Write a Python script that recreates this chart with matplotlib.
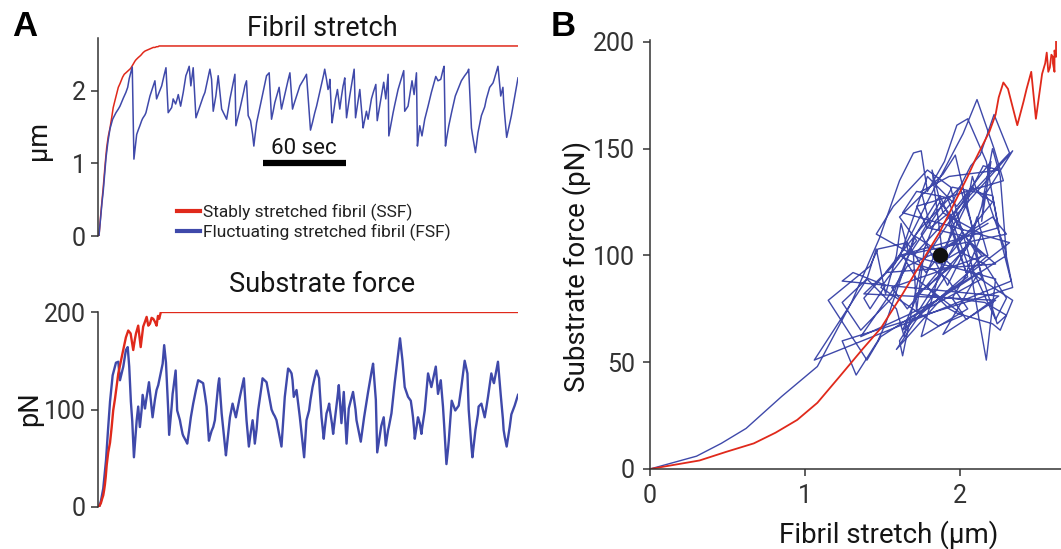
import matplotlib
matplotlib.use("Agg")
import matplotlib.pyplot as plt

# time (s), fibril stretch (um) and substrate force (pN)
t_fsf = [0.0, 1.4, 2.2, 3.1, 4.1, 5.1, 6.5, 8.0, 9.9, 12.3, 14.0, 15.2, 17.6, 19.5, 20.8, 21.9, 23.1, 24.1,
         25.3, 27.3, 28.4, 29.6, 30.9, 31.6, 33.3, 34.0, 36.2, 36.9, 38.8, 40.5, 41.7, 42.9, 45.4,
         46.1, 47.2, 48.5, 50.1, 50.8, 52.6, 53.3, 53.7, 55.5, 56.6, 57.4, 58.6, 59.1, 60.5, 61.0,
         62.9, 63.9, 65.3, 66.5, 68.2, 70.2, 71.8, 73.1, 75.4, 76.7, 77.9, 79.6, 80.3, 81.5, 82.7,
         83.9, 84.6, 86.3, 87.0, 88.8, 91.9, 92.4, 94.8, 96.7, 98.4, 99.1, 102.0, 104.9, 105.6,
         106.8, 108.0, 108.5, 109.7, 111.2, 112.1, 112.8, 114.1, 115.2, 117.7, 118.4, 121.3, 123.2,
         124.9, 126.1, 127.3, 128.5, 130.4, 132.1, 134.5, 136.9, 138.2, 139.4, 140.1, 141.0, 143.0,
         145.4, 148.5, 150.2, 152.1, 153.1, 154.6, 156.2, 157.5, 159.3, 159.8, 161.1, 162.7, 163.4,
         164.7, 165.8, 166.6, 167.1, 168.7, 169.5, 171.2, 171.9, 172.6, 173.6, 174.3, 175.5, 176.7,
         177.2, 177.9, 179.2, 180.8, 181.5, 183.9, 184.7, 185.7, 186.4, 188.8, 189.5, 191.2, 191.9,
         193.6, 194.8, 197.2, 198.4, 200.4, 201.4, 204.3, 206.1, 207.6, 209.3, 209.8, 211.7, 212.9,
         214.1, 216.5, 217.9, 219.7, 220.6, 221.3, 223.7, 225.7, 226.6, 227.3, 228.1, 228.6, 229.8,
         230.5, 230.9, 232.2, 233.4, 233.8, 235.8, 238.2, 240.6, 243.8, 245.4, 247.4, 249.0, 249.8,
         250.8, 251.5, 252.7, 253.2, 255.3, 257.9, 260.4, 262.3, 264.7, 266.7, 267.6, 269.6, 270.3,
         272.5, 274.3, 274.8, 276.8, 279.2, 280.4, 281.6, 282.8, 284.0, 285.2, 285.9, 288.8, 290.8,
         292.4, 292.9, 293.7, 295.1, 297.3, 298.5, 300.9, 303.3]
stretch_fsf = [0.00, 0.30, 0.46, 0.62, 0.85, 1.08, 1.30, 1.48, 1.61, 1.70, 1.75, 1.79, 1.90, 1.98, 2.05, 2.17, 2.26, 2.33,
               1.06, 1.40, 1.46, 1.52, 1.59, 1.62, 1.67, 1.70, 1.87, 1.93, 2.04, 2.14, 1.89, 1.95, 2.07,
               2.13, 2.22, 2.32, 1.70, 1.72, 1.77, 1.84, 1.89, 1.82, 1.89, 1.95, 1.84, 1.79, 1.93, 1.98,
               2.21, 2.26, 2.34, 2.07, 2.32, 1.63, 1.72, 1.79, 1.92, 1.98, 2.09, 2.24, 2.30, 2.16, 1.72,
               1.85, 1.93, 2.21, 2.08, 1.75, 1.63, 1.61, 1.89, 2.07, 2.23, 1.52, 1.75, 2.00, 2.07,
               2.14, 1.66, 1.64, 1.59, 1.40, 1.24, 1.36, 1.56, 1.66, 1.89, 1.95, 2.21, 2.25,
               1.61, 1.72, 1.84, 1.92, 2.05, 1.75, 1.95, 2.15, 2.25, 1.93, 1.75, 1.81, 1.93,
               2.07, 2.17, 2.23, 1.73, 1.46, 1.57, 1.70, 1.79, 1.94, 1.98, 2.09, 2.23, 2.30,
               2.16, 2.02, 2.06, 2.16, 1.56, 1.66, 1.89, 1.95, 2.02, 1.87, 1.75, 1.92, 2.07,
               2.11, 2.18, 1.63, 1.84, 1.93, 2.21, 2.30, 1.63, 1.72, 2.02, 1.86, 1.49, 1.56,
               1.72, 1.61, 1.89, 1.97, 2.09, 1.59, 1.92, 2.12, 1.89, 2.23, 1.38, 1.58, 1.70,
               1.81, 2.02, 2.11, 2.22, 2.28, 1.72, 1.79, 2.03, 2.14, 2.05, 1.95, 2.04, 2.25,
               1.24, 1.31, 1.52, 1.42, 1.38, 1.61, 1.79, 1.98, 2.20, 2.14, 2.16, 2.29, 2.34,
               1.24, 1.33, 1.47, 1.52, 1.71, 1.93, 2.05, 2.14, 2.21, 2.26, 2.30, 1.49, 1.40,
               1.15, 1.42, 1.47, 1.66, 1.78, 1.89, 1.97, 2.05, 2.08, 2.11, 2.15, 2.34, 1.93,
               2.05, 1.85, 1.66, 1.36, 1.55, 1.66, 1.92, 2.18]
force_fsf = [0, 6, 12, 19, 34, 48, 78, 108, 135, 148, 149, 130, 144, 161, 164, 144, 108, 88,
             51, 89, 103, 82, 100, 115, 101, 108, 128, 118, 92, 110, 120, 125, 142,
             147, 166, 148, 100, 74, 103, 116, 120, 140, 99, 95, 89, 85, 75, 73,
             68, 65, 79, 92, 106, 120, 130, 129, 127, 115, 103, 68, 72, 78, 82,
             89, 100, 125, 132, 96, 53, 60, 92, 106, 96, 92, 113, 132, 116,
             89, 70, 62, 75, 89, 78, 65, 80, 99, 124, 132, 128, 113,
             100, 96, 93, 89, 75, 62, 113, 142, 140, 137, 130, 113, 120,
             92, 51, 89, 99, 110, 123, 133, 140, 132, 120, 92, 70, 80,
             96, 101, 106, 100, 85, 75, 95, 103, 112, 125, 110, 86, 108,
             118, 100, 65, 101, 105, 118, 110, 100, 89, 72, 67, 85, 92,
             107, 118, 138, 147, 110, 56, 83, 92, 63, 79, 82, 96, 112,
             128, 157, 173, 150, 135, 123, 113, 109, 100, 92, 80, 70, 81,
             88, 92, 86, 75, 80, 99, 137, 123, 144, 116, 130, 103, 85,
             60, 44, 60, 68, 109, 99, 104, 123, 150, 137, 100, 62, 51,
             79, 95, 103, 106, 92, 102, 113, 125, 137, 130, 127, 149, 115,
             90, 79, 72, 62, 82, 95, 104, 115]

t_ssf = [0.0, 0.7, 1.4, 2.2, 3.1, 3.7, 4.3, 4.9, 5.6, 6.7, 8.0, 9.2, 10.3, 11.6, 12.8, 14.0, 15.2, 17.1,
         18.3, 19.5, 21.2, 22.9, 24.8, 26.0, 26.8, 28.4, 30.2, 32.0, 33.3, 34.5, 35.7, 36.9, 38.1,
         39.3, 40.5, 41.7, 42.7, 43.6, 44.8, 303.3]
stretch_ssf = [0.00, 0.16, 0.32, 0.49, 0.67, 0.81, 0.95, 1.08, 1.22, 1.37, 1.49, 1.63, 1.77, 1.87, 1.96, 2.05, 2.10, 2.19,
               2.23, 2.25, 2.28, 2.31, 2.37, 2.41, 2.43, 2.46, 2.49, 2.53, 2.55, 2.56, 2.57, 2.58, 2.59,
               2.60, 2.60, 2.61, 2.61, 2.62, 2.62, 2.62]
force_ssf = [0, 2, 4, 8, 12, 17, 23, 31, 43, 56, 66, 82, 99, 111, 124, 137, 145, 158,
             166, 174, 181, 178, 161, 172, 178, 186, 164, 185, 190, 195, 186, 188, 194,
             193, 190, 186, 196, 193, 200, 200]

mean_point = (1.87, 100)

RED = '#e0291b'
BLUE = '#3f49aa'
TXT = '#333333'
INK = '#151515'

plt.rcParams['font.family'] = ['Roboto', 'DejaVu Sans']

W, H = 1061, 549
fig = plt.figure(figsize=(W / 100, H / 100), dpi=100)


def px_axes(left, top, right, bottom):
    return fig.add_axes([left / W, 1 - bottom / H, (right - left) / W, (bottom - top) / H])


def style_a(ax):
    for s in ['top', 'right', 'bottom']:
        ax.spines[s].set_visible(False)
    ax.spines['left'].set_color(TXT)
    ax.spines['left'].set_linewidth(1.1)
    ax.set_xticks([])
    ax.tick_params(axis='y', direction='out', length=5, width=1.1, colors=TXT, labelsize=18, pad=4)


# Panel A, fibril stretch
ax1 = px_axes(98, 38, 518, 236)
ax1.plot(t_ssf, stretch_ssf, color=RED, lw=1.1, label='Stably stretched fibril (SSF)')
ax1.plot(t_fsf, stretch_fsf, color=BLUE, lw=1.1, label='Fluctuating stretched fibril (FSF)')
ax1.set_xlim(-0.7, 303.3)
ax1.set_ylim(0, 2.73)
ax1.set_yticks([0, 1, 2])
style_a(ax1)
# 60 sec scale bar
ax1.plot([118.5, 178.5], [1.01, 1.01], color='black', lw=4.5, solid_capstyle='butt', clip_on=False)
ax1.text(148.5, 1.21, '60 sec', ha='center', va='center', fontsize=16, color=INK)
leg = ax1.legend(loc='center left', bbox_to_anchor=(177 / W, 1 - 222 / H), bbox_transform=fig.transFigure,
                 frameon=False, fontsize=12.5, handlelength=1.3, handletextpad=0.2, labelspacing=0.15,
                 borderpad=0, borderaxespad=0)
for ln in leg.get_lines():
    ln.set_linewidth(3)
for tx in leg.get_texts():
    tx.set_color('#222222')

# Panel A, substrate force
ax2 = px_axes(98, 312, 518, 507)
ax2.plot(t_fsf, force_fsf, color=BLUE, lw=1.7)
ax2.plot(t_ssf, force_ssf, color=RED, lw=1.7)
ax2.set_xlim(-0.7, 303.3)
ax2.set_ylim(0, 200)
ax2.set_yticks([0, 100, 200])
style_a(ax2)

fig.text(322 / W, 1 - 28 / H, 'Fibril stretch', ha='center', va='center', fontsize=19.5, color=INK)
fig.text(322 / W, 1 - 285 / H, 'Substrate force', ha='center', va='center', fontsize=19.5, color=INK)
fig.text(38 / W, 1 - 140 / H, 'μm', rotation=90, ha='center', va='center', fontsize=19.5, color=INK)
fig.text(30 / W, 1 - 409 / H, 'pN', rotation=90, ha='center', va='center', fontsize=19.5, color=INK)

# Panel B, force vs stretch
ax3 = px_axes(650, 40, 1061, 469)
ax3.plot(stretch_fsf, force_fsf, color=BLUE, lw=1.0)
ax3.plot(stretch_ssf, force_ssf, color=RED, lw=1.3)
ax3.plot([mean_point[0]], [mean_point[1]], 'o', color='#111111', ms=10)
ax3.set_xlim(0, 2.652)
ax3.set_ylim(0, 200.9)
ax3.set_xticks([0, 1, 2])
ax3.set_yticks([0, 50, 100, 150, 200])
for s in ['top', 'right']:
    ax3.spines[s].set_visible(False)
for s in ['left', 'bottom']:
    ax3.spines[s].set_color(TXT)
    ax3.spines[s].set_linewidth(1.1)
ax3.tick_params(direction='out', length=5, width=1.1, colors=TXT, labelsize=18, pad=6)
fig.text(889 / W, 1 - 535 / H, 'Fibril stretch (μm)', ha='center', va='center', fontsize=20, color=INK)
fig.text(577 / W, 1 - 266 / H, 'Substrate force (pN)', rotation=90, ha='center', va='center', fontsize=20,
         color=INK)

fig.text(12 / W, 1 - 27 / H, 'A', ha='left', va='center', fontsize=25, fontweight='bold',
         family=['Liberation Sans', 'DejaVu Sans'])
fig.text(551 / W, 1 - 27 / H, 'B', ha='left', va='center', fontsize=25, fontweight='bold',
         family=['Liberation Sans', 'DejaVu Sans'])

fig.savefig('out.png', dpi=100)
